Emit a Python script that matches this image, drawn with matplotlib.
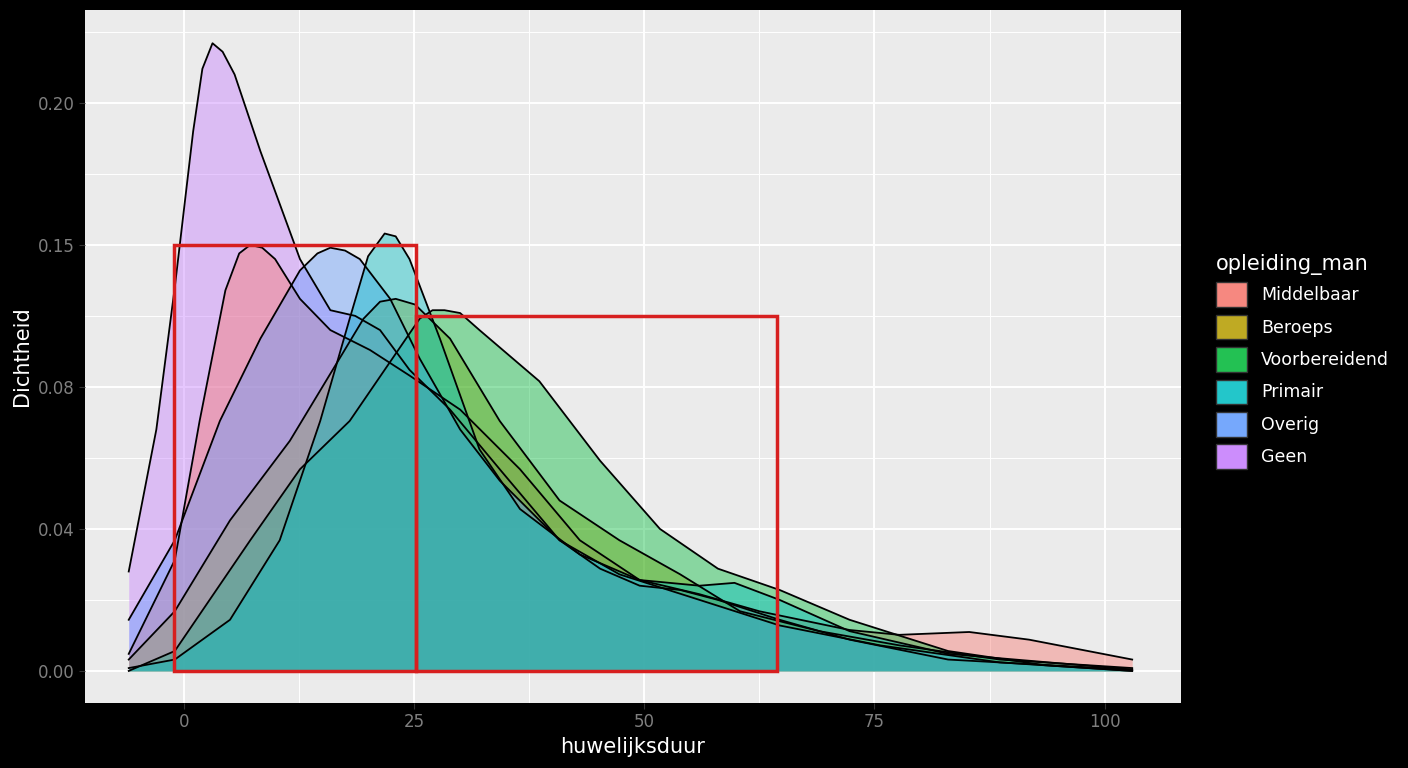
import numpy as np
import matplotlib.pyplot as plt
from matplotlib.patches import Rectangle, Patch
from matplotlib.colors import to_rgb

# density curves: (x, density)
middelbaar_x = [-6, -1, 1.7, 4.5, 6, 7.2, 8.5, 9.9, 12.6, 15.9, 20.2, 24.5, 30, 36.5, 43, 49.5, 56, 62.5, 72.3, 77.7, 85.3, 91.8, 103]
middelbaar_y = [0.006, 0.039, 0.088, 0.134, 0.147, 0.150, 0.149, 0.145, 0.131, 0.120, 0.113, 0.104, 0.092, 0.071, 0.046, 0.032, 0.027, 0.021, 0.0144, 0.0127, 0.0137, 0.011, 0.004]
beroeps_x = [-6, -1, 5, 11.5, 16.9, 19.5, 21.3, 23, 25.1, 28.9, 34.3, 40.8, 47.3, 53.9, 60.4, 69, 77.7, 88.6, 103]
beroeps_y = [0.004, 0.021, 0.053, 0.081, 0.110, 0.124, 0.130, 0.131, 0.129, 0.117, 0.088, 0.060, 0.046, 0.034, 0.021, 0.014, 0.009, 0.004, 0.001]
voorb_x = [-6, -1, 7.2, 12.6, 18, 21.8, 25.6, 27, 28.3, 30, 32.1, 38.6, 45.2, 51.7, 58, 64.7, 72.3, 83, 93.5, 103]
voorb_y = [0.0, 0.007, 0.046, 0.071, 0.088, 0.106, 0.124, 0.127, 0.127, 0.126, 0.120, 0.102, 0.074, 0.050, 0.036, 0.0285, 0.018, 0.007, 0.002, 0.0]
primair_x = [-6, -1, 5, 10.4, 14.8, 18, 20, 21.8, 23, 24.5, 27.8, 32.1, 36.5, 43, 49.5, 56, 59.8, 64.7, 72.3, 83, 103]
primair_y = [0.001, 0.004, 0.018, 0.046, 0.088, 0.124, 0.146, 0.154, 0.153, 0.145, 0.117, 0.078, 0.057, 0.041, 0.032, 0.030, 0.031, 0.025, 0.014, 0.006, 0.0005]
overig_x = [-6, -1, 3.9, 8.3, 12.6, 14.5, 15.9, 17.5, 19.1, 22.4, 25.6, 30, 34.3, 40.8, 47.3, 56, 64.7, 75.6, 88.6, 103]
overig_y = [0.018, 0.046, 0.088, 0.117, 0.141, 0.147, 0.149, 0.148, 0.145, 0.131, 0.110, 0.085, 0.067, 0.046, 0.034, 0.025, 0.016, 0.009, 0.003, 0.0]
geen_x = [-6, -3, -1, 1, 2, 3.1, 4.2, 5.5, 8.3, 12.6, 15.9, 18.6, 21.3, 24.5, 28.9, 34.3, 40.8, 45.2, 49.5, 53.9, 58, 64.7, 72.3, 83, 103]
geen_y = [0.035, 0.085, 0.135, 0.190, 0.212, 0.221, 0.218, 0.210, 0.183, 0.145, 0.127, 0.125, 0.120, 0.106, 0.092, 0.071, 0.046, 0.036, 0.030, 0.0285, 0.025, 0.018, 0.011, 0.004, 0.0004]

labels = ["Middelbaar", "Beroeps", "Voorbereidend", "Primair", "Overig", "Geen"]
colors = ["#F8766D", "#B79F00", "#00BA38", "#00BFC4", "#619CFF", "#C77CFF"]
series = [(middelbaar_x, middelbaar_y), (beroeps_x, beroeps_y), (voorb_x, voorb_y),
          (primair_x, primair_y), (overig_x, overig_y), (geen_x, geen_y)]
draw_order = [5, 0, 1, 2, 4, 3]

# highlighted boxes: (x0, x1, height)
boxes = [(-1.1, 25.2, 0.15), (25.2, 64.4, 0.125)]

fig = plt.figure(figsize=(14.08, 7.68), dpi=100, facecolor="black")
ax = fig.add_axes([85 / 1408, 65 / 768, 1096 / 1408, 693 / 768])
ax.set_facecolor("#EBEBEB")

for i in draw_order:
    xs, ys = series[i]
    ax.fill_between(xs, ys, color=colors[i], alpha=0.42, linewidth=0, zorder=3)
    ax.plot(xs, ys, color="black", linewidth=1.3, zorder=4)

for x0, x1, h in boxes:
    ax.add_patch(Rectangle((x0, 0), x1 - x0, h, fill=False, edgecolor="#D71F1F", linewidth=2.5, zorder=5))

ax.set_xlim(-10.75, 108.3)
ax.set_ylim(-0.0113, 0.2327)
ax.set_xticks([0, 25, 50, 75, 100])
ax.set_xticks([12.5, 37.5, 62.5, 87.5], minor=True)
ax.set_yticks([0, 0.05, 0.10, 0.15, 0.20])
ax.set_yticklabels(["0.00", "0.04", "0.08", "0.15", "0.20"])
ax.set_yticks([0.025, 0.075, 0.125, 0.175, 0.225], minor=True)
ax.grid(which="major", color="white", linewidth=1.4, zorder=0)
ax.grid(which="minor", color="white", linewidth=0.7, zorder=0)
ax.set_axisbelow(True)
for s in ax.spines.values():
    s.set_visible(False)
ax.tick_params(which="both", length=0, colors="#7F7F7F", labelsize=12)
ax.tick_params(which="major", length=4, color="#333333")
ax.set_xlabel("huwelijksduur", color="white", fontsize=15)
ax.set_ylabel("Dichtheid", color="white", fontsize=15)

bg = np.array(to_rgb("#EBEBEB"))
handles = [Patch(facecolor=0.85 * np.array(to_rgb(c)) + 0.15 * bg, edgecolor="#333333") for c in colors]
leg = fig.legend(handles, labels, title="opleiding_man", loc="upper left",
                 bbox_to_anchor=(1200 / 1408, 1 - 238 / 768), frameon=False,
                 fontsize=12.5, title_fontsize=15, labelcolor="white",
                 handlelength=1.8, handleheight=1.8, labelspacing=0.45, alignment="left")
leg.get_title().set_color("white")

fig.savefig("out.png", dpi=100, facecolor="black")
